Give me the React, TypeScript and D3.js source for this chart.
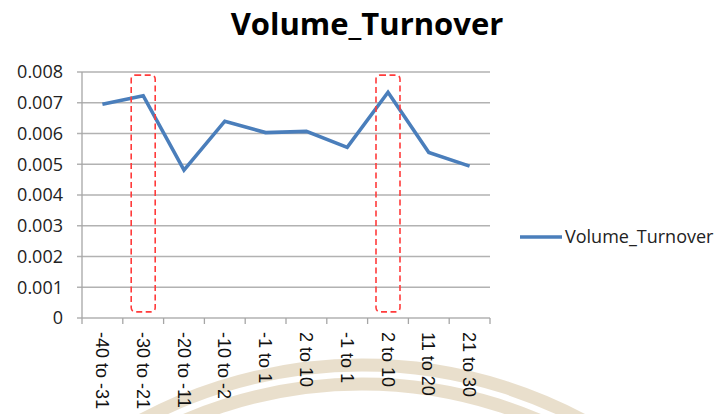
import React from "react";
import * as d3 from "d3";

const categories = ["-40 to -31", "-30 to -21", "-20 to -11", "-10 to -2", "-1 to 1", "2 to 10", "-1 to 1 ", "2 to 10 ", "11 to 20", "21 to 30"];
const labels = ["-40 to -31", "-30 to -21", "-20 to -11", "-10 to -2", "-1 to 1", "2 to 10", "-1 to 1", "2 to 10", "11 to 20", "21 to 30"];
const volumeTurnover = [0.00695, 0.00723, 0.00481, 0.0064, 0.00603, 0.00607, 0.00555, 0.00734, 0.00538, 0.00494];
const yTicks = [0, 0.001, 0.002, 0.003, 0.004, 0.005, 0.006, 0.007, 0.008];
const highlighted = [1, 7];
const highlightRange = [0.0002, 0.0079];
const seriesName = "Volume_Turnover";
const title = "Volume_Turnover";

const W = 716, H = 414;
const plot = { left: 82, right: 490, top: 72, bottom: 318 };

export default function App() {
  const x = d3.scaleBand<string>().domain(categories).range([plot.left, plot.right]);
  const y = d3.scaleLinear().domain([0, 0.008]).range([plot.bottom, plot.top]);
  const cx = (i: number) => (x(categories[i]) as number) + x.bandwidth() / 2;
  const line = d3.line<number>().x((_, i) => cx(i)).y((d) => y(d));
  const fmt = (v: number) => (v === 0 ? "0" : d3.format(".3f")(v));
  const arc = (r: number) => {
    const a = d3.arc()({ innerRadius: r, outerRadius: r, startAngle: -0.6, endAngle: 0.6 } as any);
    return a as string;
  };
  return (
    <svg width={W} height={H} style={{ position: "absolute", left: 0, top: 0, background: "#fff" }}>
      <rect width={W} height={H} fill="#fff" />
      <g transform="translate(362,834)" fill="none" stroke="#e6dac4" strokeWidth={13} opacity={0.85}>
        <path d={arc(469)} />
        <path d={arc(450)} />
      </g>
      <text x={367} y={35} textAnchor="middle" fontFamily="'Open Sans', sans-serif" fontWeight="bold" fontSize={31} fill="#000">{title}</text>
      {yTicks.map((t) => (
        <g key={t}>
          <line x1={plot.left - 5} x2={plot.right} y1={y(t)} y2={y(t)} stroke="#b2b2b2" strokeWidth={1.3} />
          <text x={63} y={y(t)} dy="0.35em" textAnchor="end" fontFamily="'Open Sans', sans-serif" fontSize={18} fill="#222">{fmt(t)}</text>
        </g>
      ))}
      <line x1={plot.left} x2={plot.left} y1={plot.top} y2={plot.bottom} stroke="#a6a6a6" strokeWidth={1.3} />
      {d3.range(categories.length + 1).map((i) => {
        const xx = plot.left + i * x.bandwidth();
        return <line key={i} x1={xx} x2={xx} y1={plot.bottom} y2={plot.bottom + 6} stroke="#a6a6a6" strokeWidth={1.3} />;
      })}
      {categories.map((c, i) => (
        <text key={c} transform={`translate(${cx(i)},332) rotate(90)`} dy="0.35em" textAnchor="start" fontFamily="'Liberation Sans', Arial, sans-serif" fontSize={18} fill="#111">{labels[i]}</text>
      ))}
      <path d={line(volumeTurnover) as string} fill="none" stroke="#4a7ebb" strokeWidth={3.6} strokeLinejoin="miter" />
      {highlighted.map((i) => (
        <rect key={i} x={cx(i) - 12} y={y(highlightRange[1])} width={24} height={y(highlightRange[0]) - y(highlightRange[1])} rx={4} fill="none" stroke="#ff3b3b" strokeWidth={1.6} strokeDasharray="6 3.5" />
      ))}
      <line x1={520} x2={562} y1={237} y2={237} stroke="#4a7ebb" strokeWidth={3.6} />
      <text x={565} y={237} dy="0.35em" fontFamily="'Open Sans', sans-serif" fontSize={18} fill="#222">{seriesName}</text>
    </svg>
  );
}
